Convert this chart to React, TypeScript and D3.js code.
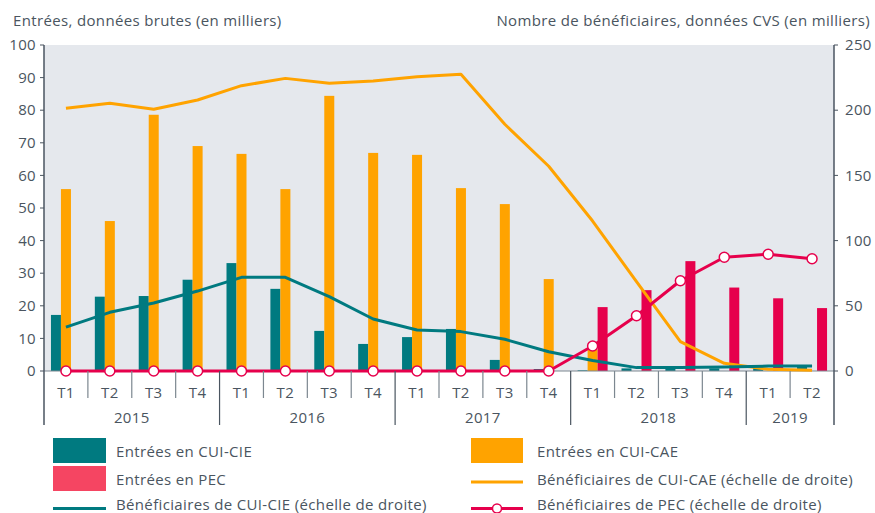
import React from "react";
import * as d3 from "d3";

const years = ["2015", "2016", "2017", "2018", "2019"];
const quarters = ["T1", "T2", "T3", "T4", "T1", "T2", "T3", "T4", "T1", "T2", "T3", "T4", "T1", "T2", "T3", "T4", "T1", "T2"];

// Entrées (left axis, thousands)
const entreesCIE = [17.2, 22.8, 23.0, 28.0, 33.1, 25.2, 12.3, 8.3, 10.4, 12.9, 3.4, 0.6, 0.2, 0.8, 0.8, 0.8, 1.0, 1.5];
const entreesCAE = [55.8, 46.0, 78.6, 69.0, 66.6, 55.8, 84.4, 66.9, 66.3, 56.1, 51.2, 28.2, 6.6, 0, 0, 0, 0, 0];
const entreesPEC = [0, 0, 0, 0, 0, 0, 0, 0, 0, 0, 0, 0, 19.6, 24.8, 33.7, 25.6, 22.3, 19.3];

// Bénéficiaires (right axis, thousands)
const benefCIE = [33.7, 45.0, 52.1, 61.3, 71.8, 71.8, 57.0, 39.9, 31.4, 30.2, 24.3, 14.8, 8.0, 2.6, 2.6, 3.0, 3.8, 3.8];
const benefCAE = [201.5, 205.3, 200.7, 207.8, 218.8, 224.4, 220.6, 222.4, 225.7, 227.5, 189.2, 157.0, 115.0, 68.5, 22.5, 5.9, 1.3, 0.5];
const benefPEC = [0, 0, 0, 0, 0, 0, 0, 0, 0, 0, 0, 0, 19.2, 42.4, 69.2, 87.2, 89.5, 86.1];

const leftTicks = [0, 10, 20, 30, 40, 50, 60, 70, 80, 90, 100];
const rightTicks = [0, 50, 100, 150, 200, 250];

const TEAL = "#007a80";
const ORANGE = "#ffa300";
const PINK = "#e6004c";
const PINK_LEGEND = "#f54562";
const TEXT = "#4a5560";
const AXIS = "#4a5560";
const BG = "#e5e8ed";
const FONT = "'Open Sans', 'Noto Sans', sans-serif";
const FS = 15;
const LS = 0.35;

if (typeof document !== "undefined") document.body.style.margin = "0";

export default function App() {
  const W = 875, H = 513;
  const left = 44, right = 834, top = 45, bottom = 371;
  const idx = quarters.map((_, i) => i);
  const x = d3.scaleBand<number>().domain(idx).range([left, right]).padding(0);
  const yL = d3.scaleLinear().domain([0, 100]).range([bottom, top]);
  const yR = d3.scaleLinear().domain([0, 250]).range([bottom, top]);
  const cx = (i: number) => (x(i) as number) + x.bandwidth() / 2;
  const bw = 10;

  const line = (vals: number[]) =>
    d3.line<number>().x((_, i) => cx(i)).y((v) => yR(v)).curve(d3.curveLinear)(vals) as string;

  const yearBounds = [0, 4, 8, 12, 16, 18];

  return (
    <svg width={W} height={H} style={{ display: "block", fontFamily: FONT, letterSpacing: LS }}>
      <rect x={left} y={top} width={right - left} height={bottom - top} fill={BG} />
      {/* titles */}
      <text x={13} y={26} fontSize={FS} fill={TEXT}>Entrées, données brutes (en milliers)</text>
      <text x={870} y={26} fontSize={FS} fill={TEXT} textAnchor="end">Nombre de bénéficiaires, données CVS (en milliers)</text>

      {/* bars */}
      {idx.map((i) => (
        <g key={"b" + i}>
          {entreesCIE[i] > 0 && (
            <rect x={cx(i) - 15} y={yL(entreesCIE[i])} width={bw} height={bottom - yL(entreesCIE[i])} fill={TEAL} />
          )}
          {entreesCAE[i] > 0 && (
            <rect x={cx(i) - 5} y={yL(entreesCAE[i])} width={bw} height={bottom - yL(entreesCAE[i])} fill={ORANGE} />
          )}
          {entreesPEC[i] > 0 && (
            <rect x={cx(i) + 5} y={yL(entreesPEC[i])} width={bw} height={bottom - yL(entreesPEC[i])} fill={PINK} />
          )}
        </g>
      ))}

      {/* baseline */}
      <line x1={left} x2={right} y1={bottom} y2={bottom} stroke="#7c8790" strokeWidth={1} />

      {/* lines */}
      <path d={line(benefCAE)} fill="none" stroke={ORANGE} strokeWidth={3} strokeLinejoin="round" />
      <path d={line(benefCIE)} fill="none" stroke={TEAL} strokeWidth={3} strokeLinejoin="round" />
      <path d={line(benefPEC)} fill="none" stroke={PINK} strokeWidth={3} strokeLinejoin="round" />
      {idx.map((i) => (
        <circle key={"c" + i} cx={cx(i)} cy={yR(benefPEC[i])} r={5} fill="#fff" stroke={PINK} strokeWidth={1.5} />
      ))}

      {/* left axis */}
      <line x1={left} x2={left} y1={top} y2={425} stroke={AXIS} strokeWidth={1.5} />
      {leftTicks.map((t) => (
        <g key={"l" + t}>
          <line x1={left - 4} x2={left} y1={yL(t)} y2={yL(t)} stroke={AXIS} />
          <text x={36} y={yL(t)} dy="0.35em" fontSize={FS} fill={TEXT} textAnchor="end">{t}</text>
        </g>
      ))}

      {/* right axis */}
      <line x1={right} x2={right} y1={top} y2={425} stroke={AXIS} strokeWidth={1.5} />
      {rightTicks.map((t) => (
        <g key={"r" + t}>
          <line x1={right} x2={right + 4} y1={yR(t)} y2={yR(t)} stroke={AXIS} />
          <text x={845} y={yR(t)} dy="0.35em" fontSize={FS} fill={TEXT}>{t}</text>
        </g>
      ))}

      {/* category axis */}
      {idx.slice(1).map((i) =>
        yearBounds.includes(i) ? (
          <line key={"s" + i} x1={x(i)} x2={x(i)} y1={bottom} y2={425} stroke={AXIS} strokeWidth={1.2} />
        ) : (
          <line key={"s" + i} x1={x(i)} x2={x(i)} y1={bottom} y2={398} stroke="#7c8790" strokeWidth={1.2} />
        )
      )}
      {idx.map((i) => (
        <text key={"q" + i} x={cx(i)} y={397.5} fontSize={FS} fill={TEXT} textAnchor="middle">{quarters[i]}</text>
      ))}
      {years.map((yv, k) => {
        const a = x(yearBounds[k]) as number;
        const b = yearBounds[k + 1] >= quarters.length ? right : (x(yearBounds[k + 1]) as number);
        return (
          <text key={"y" + yv} x={(a + b) / 2} y={422.5} fontSize={FS} fill={TEXT} textAnchor="middle">{yv}</text>
        );
      })}

      {/* legend */}
      <g fontSize={FS} fill={TEXT}>
        <rect x={53} y={438} width={53} height={25} fill={TEAL} />
        <text x={116} y={452} dy="0.35em">Entrées en CUI-CIE</text>
        <rect x={53} y={466} width={53} height={25} fill={PINK_LEGEND} />
        <text x={116} y={480} dy="0.35em">Entrées en PEC</text>
        <line x1={53} x2={106} y1={508.5} y2={508.5} stroke={TEAL} strokeWidth={3} />
        <text x={116} y={505} dy="0.35em">Bénéficiaires de CUI-CIE (échelle de droite)</text>

        <rect x={471} y={438} width={52} height={25} fill={ORANGE} />
        <text x={537} y={452} dy="0.35em">Entrées en CUI-CAE</text>
        <line x1={471} x2={523} y1={482} y2={482} stroke={ORANGE} strokeWidth={3} />
        <text x={537} y={480} dy="0.35em">Bénéficiaires de CUI-CAE (échelle de droite)</text>
        <line x1={471} x2={523} y1={508.5} y2={508.5} stroke={PINK} strokeWidth={3} />
        <circle cx={497} cy={508.5} r={4.5} fill="#fff" stroke={PINK} strokeWidth={1.5} />
        <text x={537} y={505} dy="0.35em">Bénéficiaires de PEC (échelle de droite)</text>
      </g>
    </svg>
  );
}
